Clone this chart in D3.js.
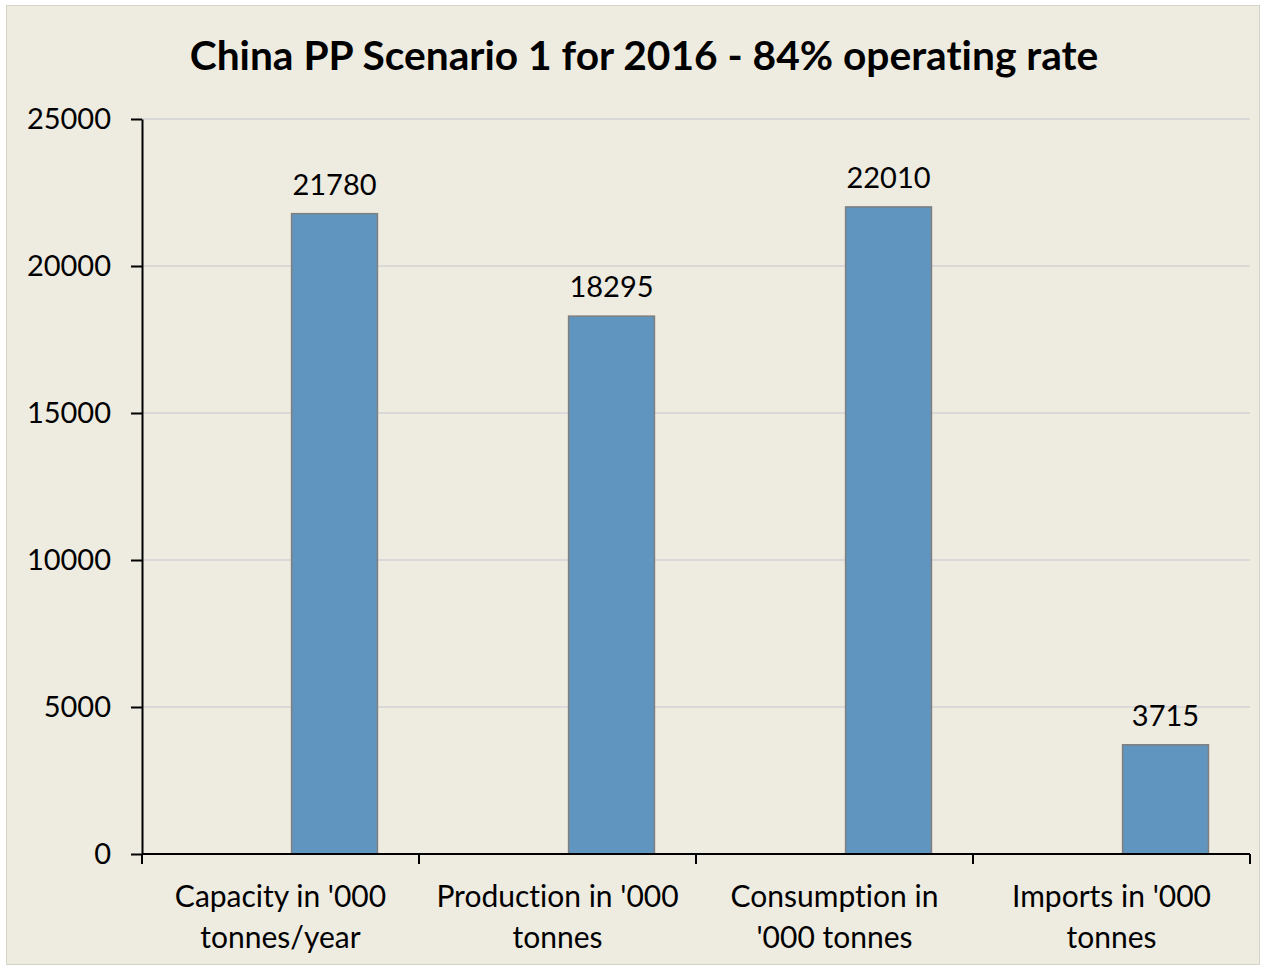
<!DOCTYPE html>
<html>
<head>
<meta charset="utf-8">
<script src="https://cdn.jsdelivr.net/npm/d3@7"></script>
<style>
  html, body { margin: 0; padding: 0; background: #ffffff; }
  svg { display: block; font-family: Lato, "Open Sans", sans-serif; font-variant-ligatures: none; }
</style>
</head>
<body>
<svg id="chart" width="1266" height="971"></svg>
<script>
// Chart data
const title = "China PP Scenario 1 for 2016 - 84% operating rate";
const categories = [
  ["Capacity in '000", "tonnes/year"],
  ["Production in '000", "tonnes"],
  ["Consumption in", "'000 tonnes"],
  ["Imports in '000", "tonnes"]
];
const values = [21780, 18295, 22010, 3715];
const yTicks = [0, 5000, 10000, 15000, 20000, 25000];

const W = 1266, H = 971;
const margin = { left: 142, right: 16, top: 119, bottom: 117 };
const plotW = W - margin.left - margin.right;
const plotH = H - margin.top - margin.bottom;
const fontStack = "Lato, 'Open Sans', sans-serif";

const svg = d3.select("#chart");

// Chart area background with thin border
svg.append("rect")
  .attr("x", 6.5).attr("y", 5.5)
  .attr("width", W - 13).attr("height", H - 12)
  .attr("fill", "#EEEBE0")
  .attr("stroke", "#D6D3C8").attr("stroke-width", 1);

svg.append("text")
  .attr("x", 644).attr("y", 70)
  .attr("text-anchor", "middle")
  .attr("font-size", 40.7).attr("font-weight", "bold")
  .attr("fill", "#000")
  .text(title);

const g = svg.append("g").attr("transform", `translate(${margin.left},${margin.top})`);

const keys = categories.map(c => c.join(" "));
const x = d3.scaleBand().domain(keys).range([0, plotW]).padding(0);
const y = d3.scaleLinear().domain([0, 25000]).range([plotH, 0]);

// Horizontal gridlines
g.append("g").selectAll("line")
  .data(yTicks.filter(t => t > 0))
  .join("line")
  .attr("x1", 0).attr("x2", plotW)
  .attr("y1", d => y(d)).attr("y2", d => y(d))
  .attr("stroke", "#D9D9D9").attr("stroke-width", 2);

// Bars sit in the right half of each category band
const bw = x.bandwidth();
const barW = bw * 0.31;
const barCenter = bw * 0.695;

g.append("g").selectAll("rect")
  .data(values)
  .join("rect")
  .attr("x", (d, i) => x(keys[i]) + barCenter - barW / 2)
  .attr("y", d => y(d))
  .attr("width", barW)
  .attr("height", d => plotH - y(d))
  .attr("fill", "#6095BF")
  .attr("stroke", "#7F7F7F").attr("stroke-width", 1.5);

// Value labels
g.append("g").selectAll("text")
  .data(values)
  .join("text")
  .attr("x", (d, i) => x(keys[i]) + barCenter)
  .attr("y", d => y(d) - 19)
  .attr("text-anchor", "middle")
  .attr("font-size", 29)
  .attr("fill", "#000")
  .text(d => d);

// Y axis
const yAxis = g.append("g")
  .call(d3.axisLeft(y).tickValues(yTicks).tickSize(11).tickSizeOuter(0).tickPadding(20).tickFormat(d3.format("d")));
yAxis.select(".domain").attr("stroke", "#000").attr("stroke-width", 2);
yAxis.selectAll(".tick line").attr("stroke", "#000").attr("stroke-width", 2);
yAxis.selectAll(".tick text")
  .attr("font-size", 29).attr("fill", "#000").attr("font-family", fontStack);

// X axis with ticks between categories
const xAxisG = g.append("g").attr("transform", `translate(0,${plotH})`);
xAxisG.append("line")
  .attr("x1", 0).attr("x2", plotW)
  .attr("stroke", "#000").attr("stroke-width", 2);
xAxisG.selectAll("line.sep")
  .data(d3.range(keys.length + 1))
  .join("line")
  .attr("class", "sep")
  .attr("x1", i => i * bw).attr("x2", i => i * bw)
  .attr("y1", 0).attr("y2", 10)
  .attr("stroke", "#000").attr("stroke-width", 2);

const catLabels = xAxisG.selectAll("text.cat")
  .data(categories)
  .join("text")
  .attr("class", "cat")
  .attr("text-anchor", "middle")
  .attr("font-size", 30)
  .attr("fill", "#000");
catLabels.each(function(d, i) {
  const t = d3.select(this);
  d.forEach((line, j) => {
    t.append("tspan")
      .attr("x", x(keys[i]) + bw / 2)
      .attr("y", 53 + j * 41)
      .text(line);
  });
});
</script>
</body>
</html>
